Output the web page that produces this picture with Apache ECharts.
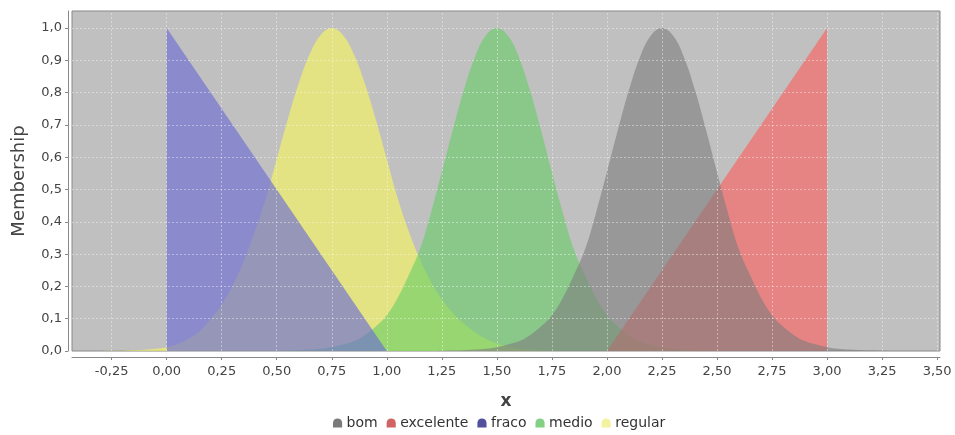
<!DOCTYPE html>
<html><head><meta charset="utf-8">
<script src="https://cdn.jsdelivr.net/npm/echarts@6/dist/echarts.min.js"></script>
<style>html,body{margin:0;padding:0;background:#fff}#c{width:955px;height:435px}</style>
</head><body><div id="c"></div>
<script>
// ---- data ----
const legendNames = ['bom', 'excelente', 'fraco', 'medio', 'regular'];
const xTicks = [-0.25, 0, 0.25, 0.5, 0.75, 1, 1.25, 1.5, 1.75, 2, 2.25, 2.5, 2.75, 3, 3.25, 3.5];
const yTicks = [0, 0.1, 0.2, 0.3, 0.4, 0.5, 0.6, 0.7, 0.8, 0.9, 1.0];

const fracoX = [0, 0, 1];
const fracoY = [0, 1, 0];
const excelenteX = [2, 3, 3];
const excelenteY = [0, 1, 0];

const regularX = [-0.30,-0.25,-0.20,-0.15,-0.10,-0.05,0.00,0.05,0.10,0.15,0.20,0.25,0.30,0.35,0.40,0.45,0.50,0.55,0.60,0.65,0.70,0.75,
                  0.80,0.85,0.90,0.95,1.00,1.05,1.10,1.15,1.20,1.25,1.30,1.35,1.40,1.45,1.50,1.55,1.60,1.65,1.70,1.75,1.80];
const regularY = [0,0.0005,0.001,0.002,0.004,0.007,0.012,0.022,0.038,0.062,0.099,0.144,0.203,0.278,0.369,0.472,0.594,0.717,0.829,0.920,0.979,1.0,
                  0.979,0.920,0.829,0.717,0.594,0.472,0.370,0.285,0.215,0.160,0.118,0.085,0.058,0.038,0.024,0.014,0.008,0.0045,0.0025,0.0012,0];

const medioX = [0.45,0.50,0.55,0.60,0.65,0.70,0.75,0.80,0.85,0.90,0.95,1.00,1.05,1.10,1.15,1.20,1.25,1.30,1.35,1.40,1.45,1.50,
                1.55,1.60,1.65,1.70,1.75,1.80,1.85,1.90,1.95,2.00,2.05,2.10,2.15,2.20,2.25,2.30,2.35,2.40,2.45,2.50,2.55];
const medioY = [0,0.001,0.0016,0.0027,0.0045,0.007,0.012,0.020,0.030,0.049,0.076,0.111,0.165,0.235,0.314,0.427,0.554,0.685,0.808,0.910,0.977,1.0,
                0.977,0.910,0.808,0.685,0.554,0.427,0.314,0.235,0.165,0.111,0.076,0.049,0.030,0.020,0.012,0.007,0.0045,0.0027,0.0016,0.001,0];

const bomX = [1.20,1.25,1.30,1.35,1.40,1.45,1.50,1.55,1.60,1.65,1.70,1.75,1.80,1.85,1.90,1.95,2.00,2.05,2.10,2.15,2.20,2.25,
              2.30,2.35,2.40,2.45,2.50,2.55,2.60,2.65,2.70,2.75,2.80,2.85,2.90,2.95,3.00,3.05,3.10,3.15,3.20,3.25,3.30];
const bomY = [0,0.001,0.0016,0.0027,0.0045,0.007,0.012,0.020,0.030,0.049,0.076,0.111,0.165,0.235,0.314,0.427,0.554,0.685,0.808,0.910,0.977,1.0,
              0.977,0.910,0.808,0.685,0.554,0.427,0.314,0.235,0.165,0.111,0.076,0.049,0.030,0.020,0.012,0.007,0.0045,0.0027,0.0016,0.001,0];

// ---- chart ----
const pairs = (xs, ys) => xs.map((x, i) => [x, ys[i]]);
const baseColors = { bom: '#7d7d7d', excelente: '#ff5a5a', fraco: '#6d6dd4', medio: '#66cd66', regular: '#fafa5a' };
const areaAlpha = { bom: 0.6, excelente: 0.6, fraco: 0.65, medio: 0.6, regular: 0.6 };
const legendColors = { bom: '#7a7a7a', excelente: '#d06464', fraco: '#50509c', medio: '#84d084', regular: '#f2f2a0' };

function areaSeries(name, xs, ys, smooth) {
  return {
    name, type: 'line', data: pairs(xs, ys), smooth: smooth, showSymbol: false, symbol: 'none',
    z: 3, silent: true,
    itemStyle: { color: baseColors[name] },
    lineStyle: { width: 0, opacity: 0 },
    areaStyle: { color: baseColors[name], opacity: areaAlpha[name] },
    emphasis: { disabled: true }
  };
}

const fmt = (d) => (v) => Number(v).toFixed(d).replace('.', ',');
const gridLineStyle = { color: 'rgba(255,255,255,0.4)', type: [2, 2], width: 1 };

const option = {
  animation: false,
  grid: { left: 72, right: 15, top: 11, bottom: 84, show: true, backgroundColor: '#c0c0c0', borderColor: '#888', borderWidth: 1 },
  xAxis: {
    type: 'value', min: -0.43, max: 3.513, offset: 6,
    name: 'x', nameLocation: 'middle', nameGap: 36,
    nameTextStyle: { fontFamily: 'DejaVu Sans', fontSize: 17, fontWeight: 'bold', color: '#444' },
    axisLine: { show: true, onZero: false, lineStyle: { color: '#888' } },
    axisTick: { show: true, length: 3, customValues: xTicks, lineStyle: { color: '#888' } },
    axisLabel: { customValues: xTicks, formatter: fmt(2), margin: 8, fontFamily: 'DejaVu Sans', fontSize: 13, color: '#444' },
    splitLine: { show: false }
  },
  yAxis: {
    type: 'value', min: 0, max: 1.053, offset: 4,
    name: 'Membership', nameLocation: 'middle', nameGap: 40, nameRotate: 90,
    nameTextStyle: { fontFamily: 'DejaVu Sans', fontSize: 18, color: '#444' },
    axisLine: { show: true, onZero: false, lineStyle: { color: '#888' } },
    axisTick: { show: true, length: 3, customValues: yTicks, lineStyle: { color: '#888' } },
    axisLabel: { customValues: yTicks, formatter: fmt(1), margin: 6, fontFamily: 'DejaVu Sans', fontSize: 13, color: '#444' },
    splitLine: { show: false }
  },
  legend: {
    left: 328, top: 411, itemWidth: 10, itemHeight: 9, itemGap: 9,
    icon: 'path://M0,10 L0,5 C0,-1.5 10,-1.5 10,5 L10,10 Z',
    textStyle: { fontFamily: 'DejaVu Sans', fontSize: 14, color: '#333', padding: [0, 0, 0, -1] },
    data: legendNames.map(n => ({ name: n, itemStyle: { color: legendColors[n] } }))
  },
  series: [
    {
      name: 'grid', type: 'line', data: [], z: 1, silent: true,
      markLine: {
        silent: true, symbol: 'none', label: { show: false }, lineStyle: gridLineStyle, animation: false,
        data: xTicks.map(v => ({ xAxis: v })).concat(yTicks.slice(1).map(v => ({ yAxis: v })))
      }
    },
    areaSeries('regular', regularX, regularY, 0.4),
    areaSeries('medio', medioX, medioY, 0.4),
    areaSeries('fraco', fracoX, fracoY, false),
    areaSeries('excelente', excelenteX, excelenteY, false),
    areaSeries('bom', bomX, bomY, 0.4)
  ]
};
echarts.init(document.getElementById('c'), null, { renderer: 'canvas' }).setOption(option);
</script>
</body></html>
